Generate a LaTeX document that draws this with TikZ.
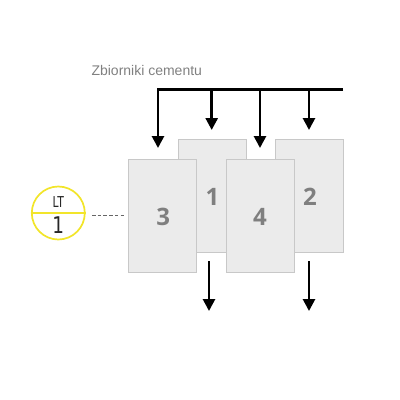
\documentclass[tikz,border=0pt]{standalone}
\usepackage{fontspec}
\setmainfont{Liberation Sans}
\newfontfamily\numfont{Open Sans}
\newfontfamily\ltfont{DejaVu Sans}
\usetikzlibrary{arrows.meta}
\definecolor{boxfill}{HTML}{EBEBEB}
\definecolor{boxline}{HTML}{C8C8C8}
\definecolor{numgray}{HTML}{7F7F7F}
\definecolor{txtgray}{HTML}{808080}
\definecolor{ltyellow}{HTML}{F2E52A}
\tikzset{
  tank/.style={draw=boxline, fill=boxfill, line width=0.9pt, minimum width=68pt, minimum height=113pt, inner sep=0pt},
  tanknum/.style={font=\numfont\bfseries\fontsize{24}{24}\selectfont, text=numgray},
  flow/.style={line width=2.7pt, -{Triangle[width=12pt,length=12pt]}},
  ltlabel/.style={text=black!85, inner sep=0pt},
}
\begin{document}
\begin{tikzpicture}[x=1pt,y=-1pt]
\useasboundingbox (0,0) rectangle (400,400);
% title
\node[font=\fontsize{14}{14}\selectfont, text=txtgray, anchor=west] (title) at (88,70) {Zbiorniki cementu};
% back tanks
\node[tank] (t1) at (212.5,195.8) {};
\node[tank] (t2) at (309.5,195.8) {};
% front tanks
\node[tank] (t3) at (162.8,216.3) {};
\node[tank] (t4) at (260.2,216.3) {};
\node[tanknum] (n1) at (212.5,196.7) {1};
\node[tanknum] (n2) at (310,196.7) {2};
\node[tanknum] (n3) at (163.3,217.3) {3};
\node[tanknum] (n4) at (260,217.3) {4};
% bus
\coordinate (busR) at (343,89.3);
\coordinate (busL) at (158,89.3);
\coordinate (b1) at (211.7,89.3);
\coordinate (b4) at (260,89.3);
\coordinate (b2) at (309,89.3);
\coordinate (e3) at (158,148);
\coordinate (e1) at (211.7,130);
\coordinate (e4) at (260,148);
\coordinate (e2) at (309,130);
\draw[flow] (busR) -- (busL) -- (e3);
\draw[flow] (b1) -- (e1);
\draw[flow] (b4) -- (e4);
\draw[flow] (b2) -- (e2);
% outlets
\coordinate (o1s) at (209,261);
\coordinate (o1e) at (209,311);
\coordinate (o2s) at (309,261);
\coordinate (o2e) at (309,311);
\draw[flow] (o1s) -- (o1e);
\draw[flow] (o2s) -- (o2e);
% LT indicator
\node[circle, draw=ltyellow, fill=white, line width=1.7pt, minimum size=53pt, inner sep=0pt] (lt) at (58.3,213) {};
\draw[ltyellow, line width=1.7pt] (lt.west) -- (lt.east);
\node[ltlabel, font=\ltfont\fontsize{15}{15}\selectfont, xscale=0.72] (ltt) at (58.3,202.5) {LT};
\node[ltlabel, font=\ltfont\fontsize{23}{23}\selectfont, xscale=0.8] (lt1) at (58.3,225.5) {1};
\coordinate (d0) at (92,215);
\coordinate (d1) at (126,215);
\draw[dash pattern=on 3.5pt off 2.2pt, line width=0.7pt, black!60] (d0) -- (d1);
\end{tikzpicture}
\end{document}
